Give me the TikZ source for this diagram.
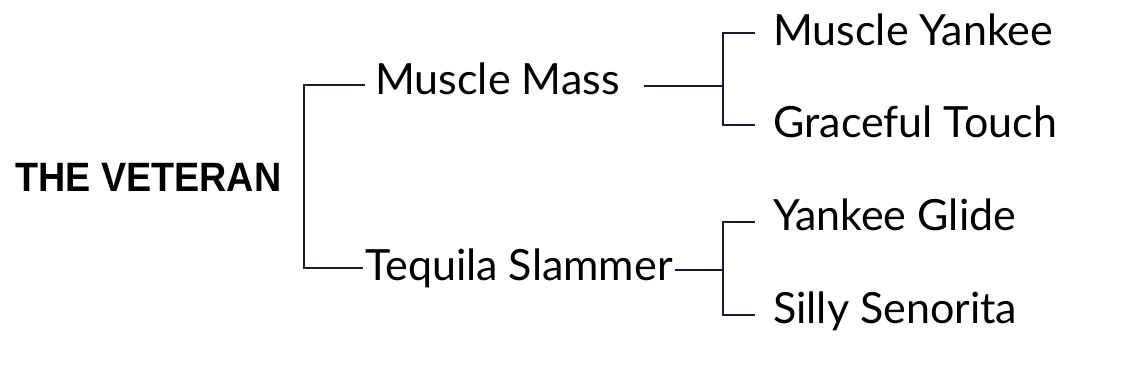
\documentclass[tikz,border=0pt]{standalone}
\usepackage{fontspec}
\setmainfont{Lato}
\newfontfamily\vetfont{Liberation Sans}
\begin{document}
\begin{tikzpicture}[x=1pt,y=-1pt,
  conn/.style={draw=linec,line width=2.7pt},
  horse/.style={anchor=base west,inner sep=0pt,font=\fontsize{43}{50}\selectfont},
  root/.style={anchor=base west,inner sep=0pt,font=\vetfont\bfseries\fontsize{41}{48}\selectfont}]
\definecolor{linec}{HTML}{1A1A30}
\useasboundingbox (0,0) rectangle (1142,366);
\fill[white] (0,0) rectangle (1142,366);
\node[root] (vet) at (15,191) {\scalebox{0.92}[1]{THE VETERAN}};
\node[horse] (mm) at (375,95) {Muscle Mass};
\node[horse] (ts) at (365,280) {Tequila Slammer};
\node[horse] (my) at (773,46) {Muscle Yankee};
\node[horse] (gt) at (773,138) {Graceful Touch};
\node[horse] (yg) at (773,230) {Yankee Glide};
\node[horse] (ss) at (773,323) {Silly Senorita};
\coordinate (k1t) at (304,85);
\coordinate (k1b) at (304,268);
\draw[conn] ([xshift=-10pt]mm.west |- k1t) -- (k1t) -- (k1b) -- ([xshift=-2pt]ts.west |- k1b);
\coordinate (k2m) at (723,86);
\coordinate (k2t) at (723,33);
\coordinate (k2b) at (723,125);
\draw[conn] ([xshift=24pt]mm.east |- k2m) -- (k2m);
\draw[conn] ([xshift=-18pt]my.west |- k2t) -- (k2t) -- (k2b) -- ([xshift=-18pt]gt.west |- k2b);
\coordinate (k3m) at (723,270);
\coordinate (k3t) at (723,222);
\coordinate (k3b) at (723,315);
\draw[conn] ([xshift=2pt]ts.east |- k3m) -- (k3m);
\draw[conn] ([xshift=-18pt]yg.west |- k3t) -- (k3t) -- (k3b) -- ([xshift=-18pt]ss.west |- k3b);
\end{tikzpicture}
\end{document}
